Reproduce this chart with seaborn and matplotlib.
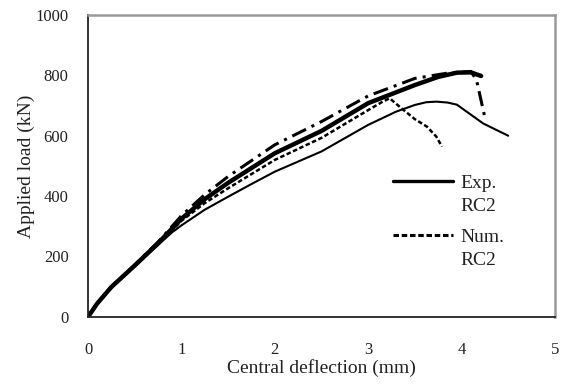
import matplotlib
matplotlib.use("Agg")
import matplotlib.pyplot as plt
from matplotlib.lines import Line2D
import seaborn as sns
import pandas as pd

# Experimental RC2 (thin solid)
exp_x = [0, 0.1, 0.25, 0.5, 0.75, 0.9, 1.0, 1.25, 1.5, 1.75, 2.0, 2.5, 3.0, 3.3, 3.5, 3.62, 3.73, 3.85, 3.95, 4.23, 4.5]
exp_y = [0, 45, 98, 168, 238, 280, 303, 355, 398, 440, 481, 548, 636, 680, 702, 711, 713, 710, 703, 641, 600]
# Numerical RC2 (dashed)
num_x = [0, 0.1, 0.25, 0.5, 0.75, 1.0, 1.25, 1.5, 2.0, 2.5, 3.0, 3.15, 3.23, 3.38, 3.5, 3.63, 3.73, 3.79]
num_y = [0, 45, 98, 168, 240, 318, 377, 426, 520, 593, 685, 712, 724, 685, 655, 630, 597, 564]
# Other curves (thick solid and dash-dot)
thick_x = [0, 0.1, 0.25, 0.5, 0.75, 1.0, 1.25, 1.5, 2.0, 2.5, 3.0, 3.5, 3.75, 3.95, 4.1, 4.21]
thick_y = [0, 45, 99, 170, 244, 325, 390, 444, 542, 616, 708, 768, 795, 809, 810, 798]
dd_x = [0, 0.1, 0.25, 0.5, 0.75, 1.0, 1.25, 1.5, 2.0, 2.5, 3.0, 3.5, 3.84, 4.1, 4.16, 4.25]
dd_y = [0, 45, 100, 172, 248, 335, 405, 465, 570, 647, 732, 790, 807, 813, 785, 660]

x_ticks = [0, 1, 2, 3, 4, 5]
y_ticks = [0, 200, 400, 600, 800, 1000]

sns.set_style("white")
plt.rcParams['font.family'] = ['Liberation Serif', 'DejaVu Serif']

fig = plt.figure(figsize=(5.68, 3.85), dpi=100)
ax = fig.add_axes([0.155, 0.177, 0.822, 0.784])

def df(x, y):
    return pd.DataFrame({"x": x, "y": y})

sns.lineplot(data=df(dd_x, dd_y), x="x", y="y", sort=False, ax=ax, color="black",
             lw=2.2, linestyle=(0, (5, 2, 1, 2)))
sns.lineplot(data=df(thick_x, thick_y), x="x", y="y", sort=False, ax=ax, color="black",
             lw=3.2)
sns.lineplot(data=df(num_x, num_y), x="x", y="y", sort=False, ax=ax, color="black",
             lw=1.8, linestyle=(0, (1.8, 1.0)))
sns.lineplot(data=df(exp_x, exp_y), x="x", y="y", sort=False, ax=ax, color="black",
             lw=1.5)

ax.set_xlim(0, 5)
ax.set_ylim(0, 1000)
ax.set_xticks(x_ticks)
ax.set_yticks(y_ticks)
ax.set_xticklabels([str(t) for t in x_ticks])
ax.set_yticklabels([str(t) for t in y_ticks])
ax.tick_params(axis='both', direction='out', length=5, width=1, color='black',
               labelsize=12, labelcolor='#222222')
ax.tick_params(axis='x', pad=13)
ax.tick_params(axis='y', pad=9)
ax.set_xlabel("Central deflection (mm)", fontsize=14, color='#222222', labelpad=1)
ax.set_ylabel("Applied load (kN)", fontsize=14, color='#222222', labelpad=0.5)

for s in ['left', 'bottom']:
    ax.spines[s].set_color('#222222')
    ax.spines[s].set_linewidth(1.3)
for s in ['top', 'right']:
    ax.spines[s].set_color('#999999')
    ax.spines[s].set_linewidth(1.8)

h_exp = Line2D([], [], color='black', lw=2.4)
h_num = Line2D([], [], color='black', lw=2.2, linestyle=(0, (1.8, 0.9)))
blank = Line2D([], [], linestyle='none')
leg_kw = dict(loc='upper left', bbox_transform=fig.transFigure, frameon=False, fontsize=14,
              handlelength=3.1, handletextpad=0.35, labelspacing=0.3, borderpad=0,
              borderaxespad=0)
leg1 = ax.legend([h_exp, blank], ['Exp.', 'RC2'], bbox_to_anchor=(0.692, 0.548), **leg_kw)
for t in leg1.get_texts():
    t.set_color('#222222')
ax.add_artist(leg1)
leg2 = ax.legend([h_num, blank], ['Num.', 'RC2'], bbox_to_anchor=(0.692, 0.408), **leg_kw)
for t in leg2.get_texts():
    t.set_color('#222222')

fig.savefig("out.png", dpi=100)
